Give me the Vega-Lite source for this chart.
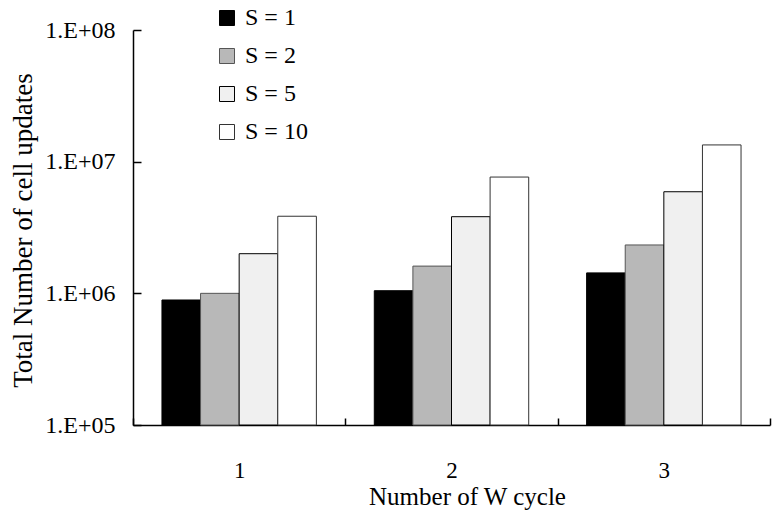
{
  "$schema": "https://vega.github.io/schema/vega-lite/v6.json",
  "width": 637,
  "height": 395,
  "autosize": {"type": "none"},
  "padding": {"left": 133, "top": 30, "right": 2, "bottom": 87},
  "background": "white",
  "config": {
    "view": {"stroke": null},
    "font": "Liberation Serif",
    "style": {"guide-label": {"font": "Liberation Serif", "fill": "black"}, "guide-title": {"font": "Liberation Serif", "fill": "black"}},
    "axis": {"domainColor": "black", "tickColor": "black", "labelColor": "black", "titleColor": "black", "labelFont": "Liberation Serif", "titleFont": "Liberation Serif", "titleFontWeight": "normal", "grid": false},
    "legend": {"labelFont": "Liberation Serif", "labelColor": "black", "labelFontSize": 24}
  },
  "data": {
    "values": [
      {"W": "1", "S": "S = 1", "updates": 890000},
      {"W": "1", "S": "S = 2", "updates": 1000000},
      {"W": "1", "S": "S = 5", "updates": 2000000},
      {"W": "1", "S": "S = 10", "updates": 3850000},
      {"W": "2", "S": "S = 1", "updates": 1047000},
      {"W": "2", "S": "S = 2", "updates": 1610000},
      {"W": "2", "S": "S = 5", "updates": 3820000},
      {"W": "2", "S": "S = 10", "updates": 7640000},
      {"W": "3", "S": "S = 1", "updates": 1430000},
      {"W": "3", "S": "S = 2", "updates": 2330000},
      {"W": "3", "S": "S = 5", "updates": 5910000},
      {"W": "3", "S": "S = 10", "updates": 13400000}
    ]
  },
  "mark": {"type": "bar"},
  "encoding": {
    "x": {
      "field": "W", "type": "nominal",
      "scale": {"paddingInner": 0, "paddingOuter": 0},
      "axis": {
        "title": "Number of W cycle",
        "labelAngle": 0,
        "labelFontSize": 23,
        "titleFontSize": 25,
        "tickBand": "extent",
        "tickSize": -7,
        "tickWidth": 1.5,
        "domainWidth": 1.5,
        "labelPadding": 41,
        "titleX": 334,
        "titleY": 79,
        "titleBaseline": "alphabetic",
        "titleAlign": "center"
      }
    },
    "xOffset": {
      "field": "S", "type": "nominal",
      "scale": {"domain": ["S = 1", "S = 2", "S = 5", "S = 10"], "paddingInner": 0, "paddingOuter": 0.75}
    },
    "y": {
      "field": "updates", "type": "quantitative",
      "scale": {"type": "log", "domain": [100000, 100000000], "nice": false},
      "axis": {
        "title": "Total Number of cell updates",
        "values": [100000, 1000000, 10000000, 100000000],
        "labelExpr": "'1.E+0' + round(log(datum.value) / LN10)",
        "labelFontSize": 24,
        "titleFontSize": 27,
        "tickSize": -8,
        "tickWidth": 1.5,
        "domainWidth": 1.5,
        "labelPadding": 26,
        "titleX": -110,
        "titleY": 200,
        "titleBaseline": "middle",
        "titleAlign": "center"
      }
    },
    "y2": {"datum": 100000},
    "fill": {
      "field": "S", "type": "ordinal",
      "scale": {"domain": ["S = 1", "S = 2", "S = 5", "S = 10"], "range": ["#000000", "#b8b8b8", "#f0f0f0", "#ffffff"]},
      "legend": {
        "title": null,
        "orient": "none",
        "legendX": 82,
        "legendY": -24,
        "padding": 0,
        "symbolType": "square",
        "symbolSize": 225,
        "labelFontSize": 24,
        "labelFont": "Liberation Serif",
        "labelColor": "black",
        "labelOffset": 6,
        "rowPadding": 14
      }
    },
    "stroke": {
      "field": "S", "type": "ordinal",
      "scale": {"domain": ["S = 1", "S = 2", "S = 5", "S = 10"], "range": ["#000000", "#555555", "#000000", "#333333"]},
      "legend": {"title": null, "labelFont": "Liberation Serif", "labelFontSize": 24}
    },
    "strokeWidth": {
      "field": "S", "type": "ordinal",
      "scale": {"domain": ["S = 1", "S = 2", "S = 5", "S = 10"], "range": [1, 1, 2.5, 1.2]},
      "legend": {"title": null, "labelFont": "Liberation Serif", "labelFontSize": 24}
    }
  }
}
